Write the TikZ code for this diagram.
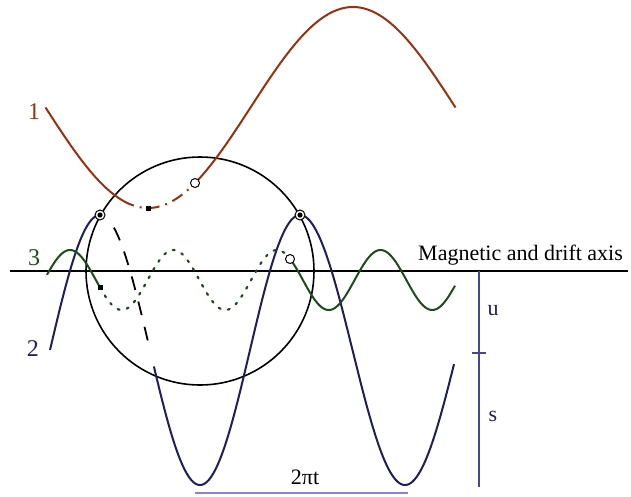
\documentclass[tikz,border=0pt]{standalone}
\usepackage{fontspec}
\setmainfont{Liberation Serif}
\usepackage{tikz}
\usetikzlibrary{arrows}

\definecolor{rust}{RGB}{150,50,15}
\definecolor{navy}{RGB}{30,30,95}
\definecolor{pine}{RGB}{30,75,30}
\definecolor{lilac}{RGB}{140,130,210}
\definecolor{slate}{RGB}{70,70,150}

\tikzset{
	lbl/.style = {font = \fontsize{22}{26}\selectfont, inner sep = 0pt},
	num/.style = {font = \fontsize{24}{28}\selectfont, inner sep = 0pt},
	apex/.style = {circle, draw, fill = white, line width = 1pt, minimum size = 10pt, inner sep = 0pt},
	hollow/.style = {circle, draw, fill = white, line width = 1pt, minimum size = 9pt, inner sep = 0pt},
	sqdot/.style = {fill, minimum size = 5pt, inner sep = 0pt},
}

\begin{document}
\begin{tikzpicture} [x = 1pt, y = -1pt]
	\useasboundingbox (0,0) rectangle (631,496);
	% axis, scales and the guiding circle
	\coordinate (axl) at (10,271);
	\coordinate (axr) at (628,271);
	\coordinate (c) at (200,271);
	\draw [line width = 1.6pt] (axl) -- (axr);
	\draw [line width = 1.6pt] (c) circle (114pt);
	\node [lbl, anchor = base west] (axis) at (418,260) {Magnetic and drift axis};
	\coordinate (ut) at (479,271);
	\coordinate (um) at (479,353);
	\coordinate (ub) at (479,487);
	\draw [slate, line width = 1.2pt] (ut) -- (ub);
	\draw [slate, line width = 1.2pt] ([xshift = -7pt]um) -- ([xshift = 7pt]um);
	\node [lbl, navy] (u) at (493,311) {u};
	\node [lbl, navy] (s) at (493,416) {s};
	\coordinate (ta) at (195,493);
	\coordinate (tb) at (408,493);
	\draw [lilac, line width = 1.4pt] (ta) -- (tb);
	\node [lbl] (per) at (305,477) {2πt};
	% curve 1
	\draw [rust, line width = 2pt, domain = -90:-22, samples = 60, smooth] plot ({148+\x/180*205}, {107.5+100.5*cos(\x)});
	\draw [rust, line width = 2pt, dash pattern = on 12pt off 6pt on 2pt off 6pt, domain = -22:41, samples = 60, smooth] plot ({148+\x/180*205}, {107.5+100.5*cos(\x)});
	\draw [rust, line width = 2pt, domain = 41:270, samples = 150, smooth] plot ({148+\x/180*205}, {107.5+100.5*cos(\x)});
	\node [num, rust] (n1) at (34,112) {1};
	% curve 2
	\draw [navy, line width = 2pt, domain = -90:0, samples = 60, smooth] plot ({100+\x/180*100}, {350-135*cos(\x)});
	\draw [line width = 1.8pt, dash pattern = on 14pt off 12pt, domain = 25:90, samples = 60, smooth] plot ({100+\x/180*100}, {350-135*cos(\x)});
	\draw [navy, line width = 2pt, domain = 97:624, samples = 300, smooth] plot ({100+\x/180*100+(\x>360)*(\x-360)/180*5}, {350-135*cos(\x)});
	\node [num, navy] (n2) at (33,349) {2};
	% curve 3
	\draw [pine, line width = 2pt, domain = -80:104, samples = 60, smooth] plot ({70+\x*0.2875}, {280-30*cos(\x)});
	\draw [pine, line width = 2.2pt, line cap = round, dash pattern = on 2pt off 7.5pt, domain = 104:765, samples = 200, smooth] plot ({70+\x*0.2875}, {280-30*cos(\x)});
	\draw [pine, line width = 2pt, domain = 765:1339, samples = 150, smooth] plot ({70+\x*0.2875}, {280-30*cos(\x)});
	\node [num, pine] (n3) at (34,258) {3};
	% markers
	\node [apex] (pk1) at (100,215) {};
	\node [apex] (pk2) at (300,215) {};
	\fill (pk1) circle (2.6pt);
	\fill (pk2) circle (2.6pt);
	\node [sqdot] (q1) at (148,208) {};
	\node [sqdot] (q3) at (100,287) {};
	\node [hollow] (h1) at (195,183) {};
	\node [hollow] (h3) at (290,259) {};
\end{tikzpicture}
\end{document}
